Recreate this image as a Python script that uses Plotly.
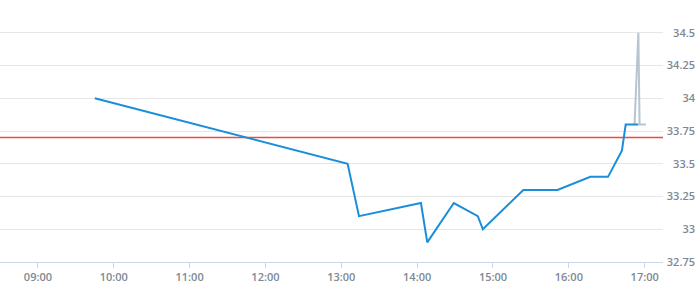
import plotly.graph_objects as go

DAY = "2024-01-15 "
main_times = ["09:45", "13:05", "13:14", "14:03", "14:08", "14:29", "14:48", "14:52",
              "15:24", "15:51", "16:17", "16:31", "16:42", "16:45", "16:55"]
main_values = [34.0, 33.5, 33.1, 33.2, 32.9, 33.2, 33.1, 33.0,
               33.3, 33.3, 33.4, 33.4, 33.6, 33.8, 33.8]
spike_times = ["16:52", "16:55", "16:56", "17:01"]
spike_values = [33.8, 34.5, 33.8, 33.8]
reference_level = 33.7
y_ticks = [32.75, 33.0, 33.25, 33.5, 33.75, 34.0, 34.25, 34.5]
y_tick_labels = ["32.75", "33", "33.25", "33.5", "33.75", "34", "34.25", "34.5"]
x_ticks = ["09:00", "10:00", "11:00", "12:00", "13:00", "14:00", "15:00", "16:00", "17:00"]

font = dict(family="Open Sans", size=11, color="#7d8894", weight=600)

fig = go.Figure()
fig.add_trace(go.Scatter(x=[DAY + t for t in spike_times], y=spike_values, mode="lines",
                         line=dict(color="#b7c5d1", width=2), hoverinfo="skip"))
fig.add_trace(go.Scatter(x=[DAY + t for t in main_times], y=main_values, mode="lines",
                         line=dict(color="#1a8edb", width=2), hoverinfo="skip"))
fig.add_trace(go.Scatter(x=[], y=[], yaxis="y2", showlegend=False))

fig.add_shape(type="line", xref="paper", x0=0, x1=663 / 695, yref="y",
              y0=reference_level, y1=reference_level,
              line=dict(color="#ef4a3c", width=1.6), layer="below")

fig.update_layout(
    width=695, height=300,
    margin=dict(l=0, r=0, t=0, b=38),
    paper_bgcolor="white", plot_bgcolor="white",
    showlegend=False,
    xaxis=dict(
        domain=[0, 663 / 695],
        range=[DAY + "08:30", DAY + "17:14:30"],
        tickvals=[DAY + t for t in x_ticks], ticktext=x_ticks,
        showgrid=False, zeroline=False,
        showline=True, linecolor="#ccd6eb", linewidth=1,
        ticks="outside", ticklen=5, tickcolor="#ccd6eb",
        tickfont=font,
    ),
    yaxis=dict(
        range=[32.75, 34.75],
        tickvals=y_ticks, showticklabels=False,
        showgrid=True, gridcolor="#e6e6e6", gridwidth=1,
        zeroline=False, showline=False, ticks="",
    ),
    yaxis2=dict(
        overlaying="y", anchor="free", position=1, side="left",
        range=[32.75, 34.75],
        tickvals=y_ticks, ticktext=y_tick_labels,
        showgrid=False, zeroline=False, showline=False, ticks="",
        tickfont=font,
    ),
)

fig.write_html("out.html")
